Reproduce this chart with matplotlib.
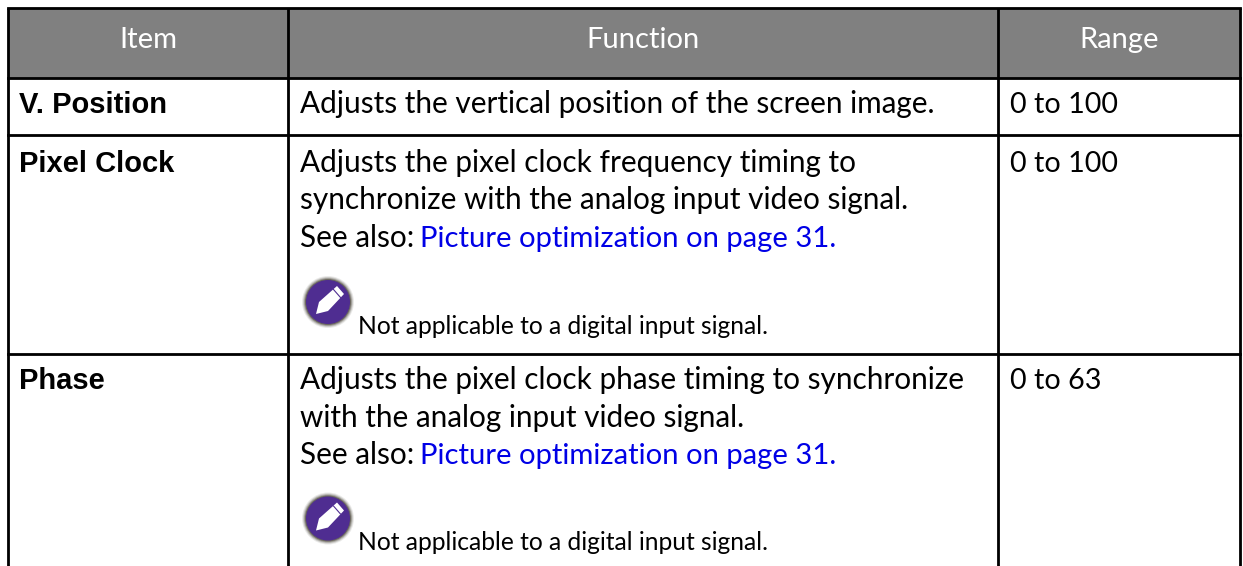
import matplotlib
matplotlib.use("Agg")
import matplotlib.pyplot as plt
from matplotlib.patches import Rectangle, Circle, Polygon

W, H = 1243, 566
headers = ["Item", "Function", "Range"]
items = ["V. Position", "Pixel Clock", "Phase"]
functions = [
    ["Adjusts the vertical position of the screen image."],
    ["Adjusts the pixel clock frequency timing to",
     "synchronize with the analog input video signal."],
    ["Adjusts the pixel clock phase timing to synchronize",
     "with the analog input video signal."],
]
see_also = [None, "Picture optimization on page 31.", "Picture optimization on page 31."]
notes = [None, "Not applicable to a digital input signal.", "Not applicable to a digital input signal."]
ranges = ["0 to 100", "0 to 100", "0 to 63"]

col_x = [8, 288, 998, 1240]
row_y = [8, 78, 135, 354, 566]
first_baseline = [113, 172, 389]
note_icon_y = [None, 302, 518.5]
note_baseline = [None, 334, 550]

SANS = "Lato"
BOLD = "Liberation Sans"
PT = 72 / 100

fig = plt.figure(figsize=(W / 100, H / 100), dpi=100, facecolor="white")
ax = fig.add_axes([0, 0, 1, 1])
ax.set_xlim(0, W)
ax.set_ylim(H, 0)
ax.axis("off")

ax.add_patch(Rectangle((col_x[0], row_y[0]), col_x[3] - col_x[0], row_y[1] - row_y[0],
                       facecolor="#808080", edgecolor="none"))
lw = 2.8 * PT
for x in col_x:
    ax.plot([x, x], [row_y[0], row_y[-1]], color="black", lw=lw, solid_capstyle="butt")
for y in row_y[:-1]:
    ax.plot([col_x[0], col_x[3]], [y, y], color="black", lw=lw, solid_capstyle="projecting")

for i, h in enumerate(headers):
    ax.text((col_x[i] + col_x[i + 1]) / 2, 48, h, ha="center", va="baseline",
            color="white", fontsize=21, family=SANS)

BODY = 21.4
LINE = 37.5


def icon(cx, cy):
    for r, a in [(26, 0.10), (25, 0.18), (24, 0.3), (23, 0.5)]:
        ax.add_patch(Circle((cx, cy), r, facecolor="#3a3528", edgecolor="none", alpha=a))
    ax.add_patch(Circle((cx, cy), 22, facecolor="#4f2d91", edgecolor="none"))
    ax.add_patch(Polygon([(cx - 12, cy + 12), (cx - 9, cy), (cx + 9, cy - 16),
                          (cx + 16, cy - 8), (cx, cy + 9)],
                         closed=True, facecolor="white", edgecolor="none", zorder=3))
    ax.plot([cx + 5.5, cx + 12.5], [cy - 12.5, cy - 4.5], color="#4f2d91", lw=0.8, zorder=4)


for i in range(3):
    base = first_baseline[i]
    ax.text(19, base, items[i], ha="left", va="baseline", fontsize=21,
            family=BOLD, fontweight="bold", color="black")
    ax.text(1010, base, ranges[i], ha="left", va="baseline", fontsize=20.7,
            family=SANS, color="black")
    lines = functions[i]
    for j, t in enumerate(lines):
        ax.text(300, base + j * LINE, t, ha="left", va="baseline", fontsize=BODY,
                family=SANS, color="black")
    if see_also[i]:
        yy = base + len(lines) * LINE
        ax.text(300, yy, "See also:", ha="left", va="baseline", fontsize=BODY,
                family=SANS, color="black")
        ax.text(420, yy, see_also[i], ha="left", va="baseline", fontsize=21.1,
                family=SANS, color="#0000e6")
        icon(328, note_icon_y[i])
        ax.text(358, note_baseline[i], notes[i], ha="left", va="baseline", fontsize=17.7,
                family=SANS, color="black")

fig.savefig("out.png", dpi=100)
